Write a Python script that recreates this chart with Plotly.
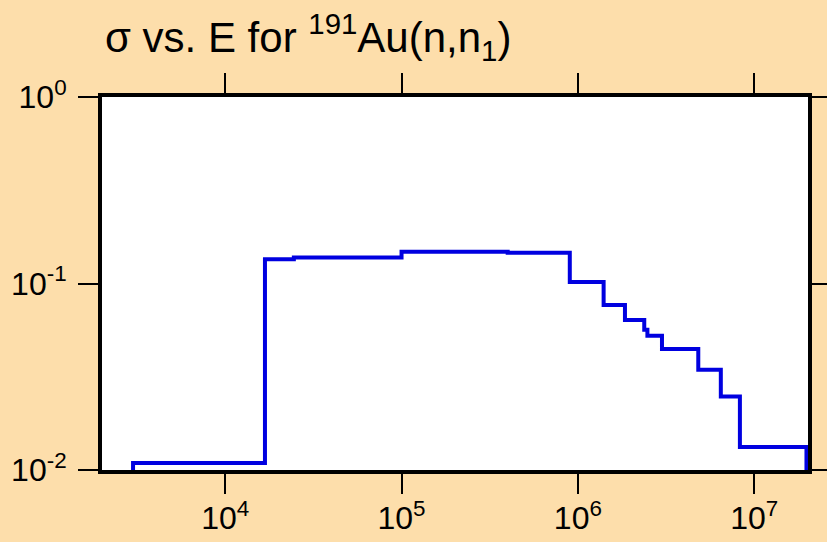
import numpy as np
import plotly.graph_objects as go

# Group boundaries (eV) and cross section per group for 191Au(n,n1)
energy_edges = [3.0e3, 1.68e4, 2.45e4, 1.0e5, 4.0e5, 9.0e5, 1.4e6, 1.85e6,
                2.38e6, 2.48e6, 3.0e6, 4.82e6, 6.47e6, 8.3e6, 1.98e7]
sigma_values = [0.0109, 0.135, 0.138, 0.148, 0.146, 0.102, 0.0767, 0.0638,
                0.0565, 0.0524, 0.0445, 0.0345, 0.0248, 0.0133]
sigma_floor = 0.01

x_tick_vals = [1e4, 1e5, 1e6, 1e7]
x_tick_text = ["10<sup>4</sup>", "10<sup>5</sup>", "10<sup>6</sup>", "10<sup>7</sup>"]
y_tick_vals = [1e-2, 1e-1, 1e0]
y_tick_text = ["10<sup>-2</sup>", "10<sup>-1</sup>", "10<sup>0</sup>"]

# histogram outline: rise at the first edge, drop at the last edge
x_step = [energy_edges[0]] + energy_edges[:-1] + [energy_edges[-1]]
y_step = [sigma_floor] + sigma_values + [sigma_floor]

font_family = "Arial, Liberation Sans, sans-serif"

fig = go.Figure()
fig.add_trace(go.Scatter(x=x_step, y=y_step, mode="lines", line_shape="hv",
                         line=dict(color="#0000E0", width=4), showlegend=False))

axis_style = dict(showline=True, linewidth=4, linecolor="black", mirror="allticks",
                  ticks="outside", ticklen=20, tickwidth=2, tickcolor="black",
                  showgrid=False, zeroline=False, automargin=False,
                  tickfont=dict(family=font_family, size=32, color="black"))

fig.update_xaxes(type="log", range=[np.log10(2e3), np.log10(2.02e7)],
                 tickvals=x_tick_vals, ticktext=x_tick_text,
                 ticklabelstandoff=-3, **axis_style)
fig.update_yaxes(type="log", range=[-2, 0],
                 tickvals=y_tick_vals, ticktext=y_tick_text,
                 ticklabelstandoff=5, **axis_style)

fig.update_layout(
    width=827, height=542,
    margin=dict(l=102, r=19, t=97, b=72),
    paper_bgcolor="#FDDEAB",
    plot_bgcolor="white",
    title=dict(text="σ vs. E for <sup>191</sup>Au(n,n<sub>1</sub>)",
               font=dict(family=font_family, size=42, color="black"),
               x=105 / 827, xref="container", xanchor="left",
               y=1 - 37 / 542, yref="container", yanchor="middle"),
)

# drop the default body margin so the figure sits at the page corner
fig.write_html("out.html", config={"displayModeBar": False},
               post_script="document.body.style.margin = '0px';")
